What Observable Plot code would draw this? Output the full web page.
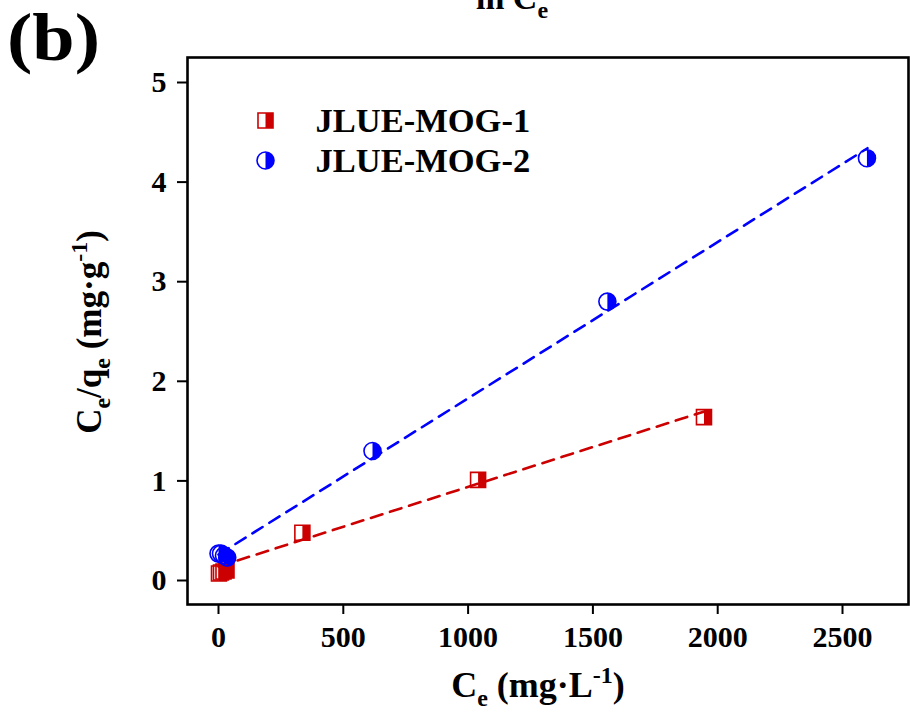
<!DOCTYPE html>
<html>
<head>
<meta charset="utf-8">
<script src="https://cdn.jsdelivr.net/npm/d3@7"></script>
<script src="https://cdn.jsdelivr.net/npm/@observablehq/plot@0.6"></script>
<style>
  html, body { margin: 0; padding: 0; background: #fff; }
  #chart { width: 910px; height: 722px; }
</style>
</head>
<body>
<div id="chart"></div>
<script>
// ---- data ----
const seriesNames = ["JLUE-MOG-1", "JLUE-MOG-2"];
const mog1X = [2, 10, 20, 32, 336, 1040, 1945];
const mog1Y = [0.07, 0.08, 0.09, 0.10, 0.48, 1.01, 1.64];
const mog2X = [0, 10, 22, 35, 617, 1558, 2598];
const mog2Y = [0.27, 0.27, 0.25, 0.23, 1.30, 2.80, 4.24];
const fit1X = [0, 1950];
const fit1Y = [0.14, 1.70];
const fit2X = [0, 2600];
const fit2Y = [0.26, 4.34];
const xTicks = [0, 500, 1000, 1500, 2000, 2500];
const yTicks = [0, 1, 2, 3, 4, 5];

const RED = "#CC0000";
const BLUE = "#0000FF";
const FONT = "'Liberation Serif', 'Times New Roman', serif";

const toRows = (xs, ys) => xs.map((x, i) => ({x, y: ys[i]}));
const mog1 = toRows(mog1X, mog1Y);
const mog2 = toRows(mog2X, mog2Y);
const fit1 = toRows(fit1X, fit1Y);
const fit2 = toRows(fit2X, fit2Y);

// custom half-filled symbols
const sqFull = {draw(c, s) { const h = Math.sqrt(s / Math.PI); c.rect(-h, -h, 2 * h, 2 * h); }};
const sqHalf = {draw(c, s) { const h = Math.sqrt(s / Math.PI); c.rect(0, -h, h, 2 * h); }};
const ciFull = {draw(c, s) { const r = Math.sqrt(s / Math.PI); c.moveTo(r, 0); c.arc(0, 0, r, 0, 2 * Math.PI); }};
const ciHalf = {draw(c, s) { const r = Math.sqrt(s / Math.PI); c.moveTo(0, -r); c.arc(0, 0, r, -Math.PI / 2, Math.PI / 2); c.closePath(); }};

const SQ_R = 7.5, CI_R = 8.5;
const markerMarks = (data, opts) => [
  Plot.dot(data, {...opts, symbol: opts.full, r: opts.r, fill: "none", stroke: opts.color, strokeWidth: 1.6}),
  Plot.dot(data, {...opts, symbol: opts.half, r: opts.r, fill: opts.color, stroke: "none"})
];

const plot = Plot.plot({
  width: 910,
  height: 722,
  marginLeft: 187,
  marginRight: 2,
  marginTop: 57,
  marginBottom: 118,
  style: {fontFamily: FONT, background: "#fff", color: "#000"},
  x: {domain: [-124.2, 2764.4]},
  y: {domain: [-0.241, 5.251]},
  marks: [
    Plot.line(fit1, {x: "x", y: "y", stroke: RED, strokeWidth: 2.6, strokeDasharray: "12,8"}),
    Plot.line(fit2, {x: "x", y: "y", stroke: BLUE, strokeWidth: 2.6, strokeDasharray: "12,8"}),
    ...markerMarks(mog1, {x: "x", y: "y", full: sqFull, half: sqHalf, r: SQ_R, color: RED}),
    ...markerMarks(mog2, {x: "x", y: "y", full: ciFull, half: ciHalf, r: CI_R, color: BLUE}),
    // legend
    ...markerMarks([seriesNames[0]], {frameAnchor: "top-left", dx: 78, dy: 63, full: sqFull, half: sqHalf, r: SQ_R, color: RED}),
    ...markerMarks([seriesNames[1]], {frameAnchor: "top-left", dx: 78, dy: 103, full: ciFull, half: ciHalf, r: CI_R, color: BLUE}),
    Plot.text([seriesNames[0]], {frameAnchor: "top-left", text: d => d, dx: 128, dy: 63, textAnchor: "start", lineAnchor: "middle", fontSize: 34.5, fontWeight: "bold", fill: "#000"}),
    Plot.text([seriesNames[1]], {frameAnchor: "top-left", text: d => d, dx: 128, dy: 103, textAnchor: "start", lineAnchor: "middle", fontSize: 34.5, fontWeight: "bold", fill: "#000"}),
    // axes
    Plot.axisX({ticks: xTicks, tickFormat: d => String(d), tickSize: 10, tickPadding: 11, strokeWidth: 2, fontSize: 30, fontWeight: "bold", label: null}),
    Plot.axisY({ticks: yTicks, tickFormat: d => String(d), tickSize: 10, tickPadding: 11, strokeWidth: 2, fontSize: 30, fontWeight: "bold", label: null}),
    Plot.frame({stroke: "#000", strokeWidth: 2.6})
  ]
});

document.getElementById("chart").appendChild(plot);

// extra texts with sub/superscripts
const svg = d3.select(plot);
const addText = (sel) => sel.attr("font-family", FONT).attr("font-weight", "bold").attr("fill", "#000");

// panel tag
addText(svg.append("text")).attr("transform", "translate(7,60) scale(1.12,1)").attr("text-anchor", "start").attr("font-size", 68).text("(b)");

// cut-off title at top (cut in the reference as well)
const t0 = addText(svg.append("text")).attr("x", 512).attr("y", 9).attr("text-anchor", "middle").attr("font-size", 34);
t0.append("tspan").text("ln C");
t0.append("tspan").attr("dy", 9).attr("font-size", 24).text("e");

// x axis title
const tx = addText(svg.append("text")).attr("x", 538).attr("y", 697).attr("text-anchor", "middle").attr("font-size", 36);
tx.append("tspan").text("C");
tx.append("tspan").attr("dy", 9).attr("font-size", 24).text("e");
tx.append("tspan").attr("dy", -9).text(" (mg\u00B7L");
tx.append("tspan").attr("dy", -14).attr("font-size", 24).text("-1");
tx.append("tspan").attr("dy", 14).text(")");

// y axis title
const ty = addText(svg.append("text")).attr("transform", "translate(101,332) rotate(-90)").attr("text-anchor", "middle").attr("font-size", 35);
ty.append("tspan").text("C");
ty.append("tspan").attr("dy", 9).attr("font-size", 24).text("e");
ty.append("tspan").attr("dy", -9).text("/q");
ty.append("tspan").attr("dy", 9).attr("font-size", 24).text("e");
ty.append("tspan").attr("dy", -9).text(" (mg\u00B7g");
ty.append("tspan").attr("dy", -14).attr("font-size", 24).text("-1");
ty.append("tspan").attr("dy", 14).text(")");
</script>
</body>
</html>
